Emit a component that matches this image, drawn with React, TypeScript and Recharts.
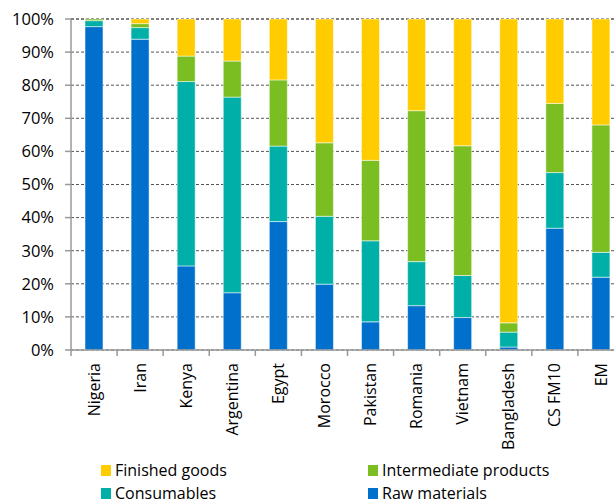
import React from "react";
import { BarChart, Bar, XAxis, YAxis, CartesianGrid } from "recharts";

const categories = ["Nigeria", "Iran", "Kenya", "Argentina", "Egypt", "Morocco", "Pakistan", "Romania", "Vietnam", "Bangladesh", "CS FM10", "EM"];
const rawMaterials = [97.7, 93.9, 25.4, 17.3, 38.8, 19.9, 8.5, 13.4, 9.8, 0.9, 36.8, 22.0];
const consumables = [1.8, 3.5, 55.7, 59.1, 22.8, 20.5, 24.5, 13.3, 12.7, 4.5, 16.8, 7.5];
const intermediate = [0.5, 1.2, 7.7, 10.9, 20.0, 22.2, 24.3, 45.6, 39.2, 2.8, 20.9, 38.5];
const finished = [0, 1.4, 11.2, 12.7, 18.4, 37.4, 42.7, 27.7, 38.3, 91.8, 25.5, 32.0];
const yTicks = [0, 10, 20, 30, 40, 50, 60, 70, 80, 90, 100];

const data = categories.map((c, i) => ({
  name: c,
  raw: rawMaterials[i],
  cons: consumables[i],
  inter: intermediate[i],
  fin: finished[i],
}));

const FONT = "'Open Sans', sans-serif";
const COLORS = { fin: "#FFCC00", inter: "#7BBE22", cons: "#00B0A8", raw: "#0070CC" };
const BAND = 46.08;

const XTick = (props: any) => {
  const { x, y, payload, index } = props;
  const last = index === categories.length - 1;
  return (
    <g>
      <line x1={x - BAND / 2} y1={y} x2={x - BAND / 2} y2={y + 6} stroke="#999" strokeWidth={1.5} />
      {last && <line x1={x + BAND / 2} y1={y} x2={x + BAND / 2} y2={y + 6} stroke="#999" strokeWidth={1.5} />}
      <text
        x={x}
        y={y + 13}
        transform={`rotate(-90, ${x}, ${y + 13})`}
        textAnchor="end"
        dy="0.35em"
        fill="#000"
        fontSize={16}
        fontFamily={FONT}
      >
        {payload.value}
      </text>
    </g>
  );
};

const legendItems = [
  { key: "fin", label: "Finished goods", left: 101, top: 461 },
  { key: "inter", label: "Intermediate products", left: 368, top: 461 },
  { key: "cons", label: "Consumables", left: 101, top: 484 },
  { key: "raw", label: "Raw materials", left: 368, top: 484 },
];

export default function App() {
  return (
    <div style={{ position: "absolute", left: 0, top: 0, width: 614, height: 502, overflow: "hidden", background: "#fff" }}>
      <BarChart
        width={630}
        height={502}
        data={data}
        margin={{ top: 19, right: 6, bottom: 0, left: 0 }}
        barSize={18}
        barCategoryGap={0}
      >
        <CartesianGrid vertical={false} stroke="#555" strokeDasharray="3 2" strokeWidth={1} />
        <YAxis
          width={71}
          domain={[0, 100]}
          ticks={yTicks}
          interval={0}
          tickFormatter={(v: number) => `${v}%`}
          axisLine={{ stroke: "#999", strokeWidth: 1.5 }}
          tickLine={{ stroke: "#999", strokeWidth: 1.5 }}
          tickSize={6}
          tickMargin={11}
          tick={{ fill: "#000", fontSize: 16.5, fontFamily: FONT }}
        />
        <XAxis
          dataKey="name"
          height={152}
          interval={0}
          axisLine={{ stroke: "#999", strokeWidth: 1.5 }}
          tickLine={false}
          tickSize={0}
          tickMargin={0}
          tick={<XTick />}
        />
        <Bar dataKey="raw" stackId="a" fill={COLORS.raw} stroke="rgba(255,255,255,0.5)" strokeWidth={1} isAnimationActive={false} />
        <Bar dataKey="cons" stackId="a" fill={COLORS.cons} stroke="rgba(255,255,255,0.5)" strokeWidth={1} isAnimationActive={false} />
        <Bar dataKey="inter" stackId="a" fill={COLORS.inter} stroke="rgba(255,255,255,0.5)" strokeWidth={1} isAnimationActive={false} />
        <Bar dataKey="fin" stackId="a" fill={COLORS.fin} stroke="rgba(255,255,255,0.5)" strokeWidth={1} isAnimationActive={false} />
      </BarChart>
      {legendItems.map((it) => (
        <div
          key={it.key}
          style={{
            position: "absolute",
            left: it.left,
            top: it.top,
            display: "flex",
            alignItems: "center",
            fontFamily: FONT,
            fontSize: 16,
            color: "#000",
            lineHeight: "18px",
            whiteSpace: "nowrap",
          }}
        >
          <span style={{ display: "inline-block", width: 10, height: 11, background: (COLORS as any)[it.key], marginRight: 4 }} />
          {it.label}
        </div>
      ))}
    </div>
  );
}
